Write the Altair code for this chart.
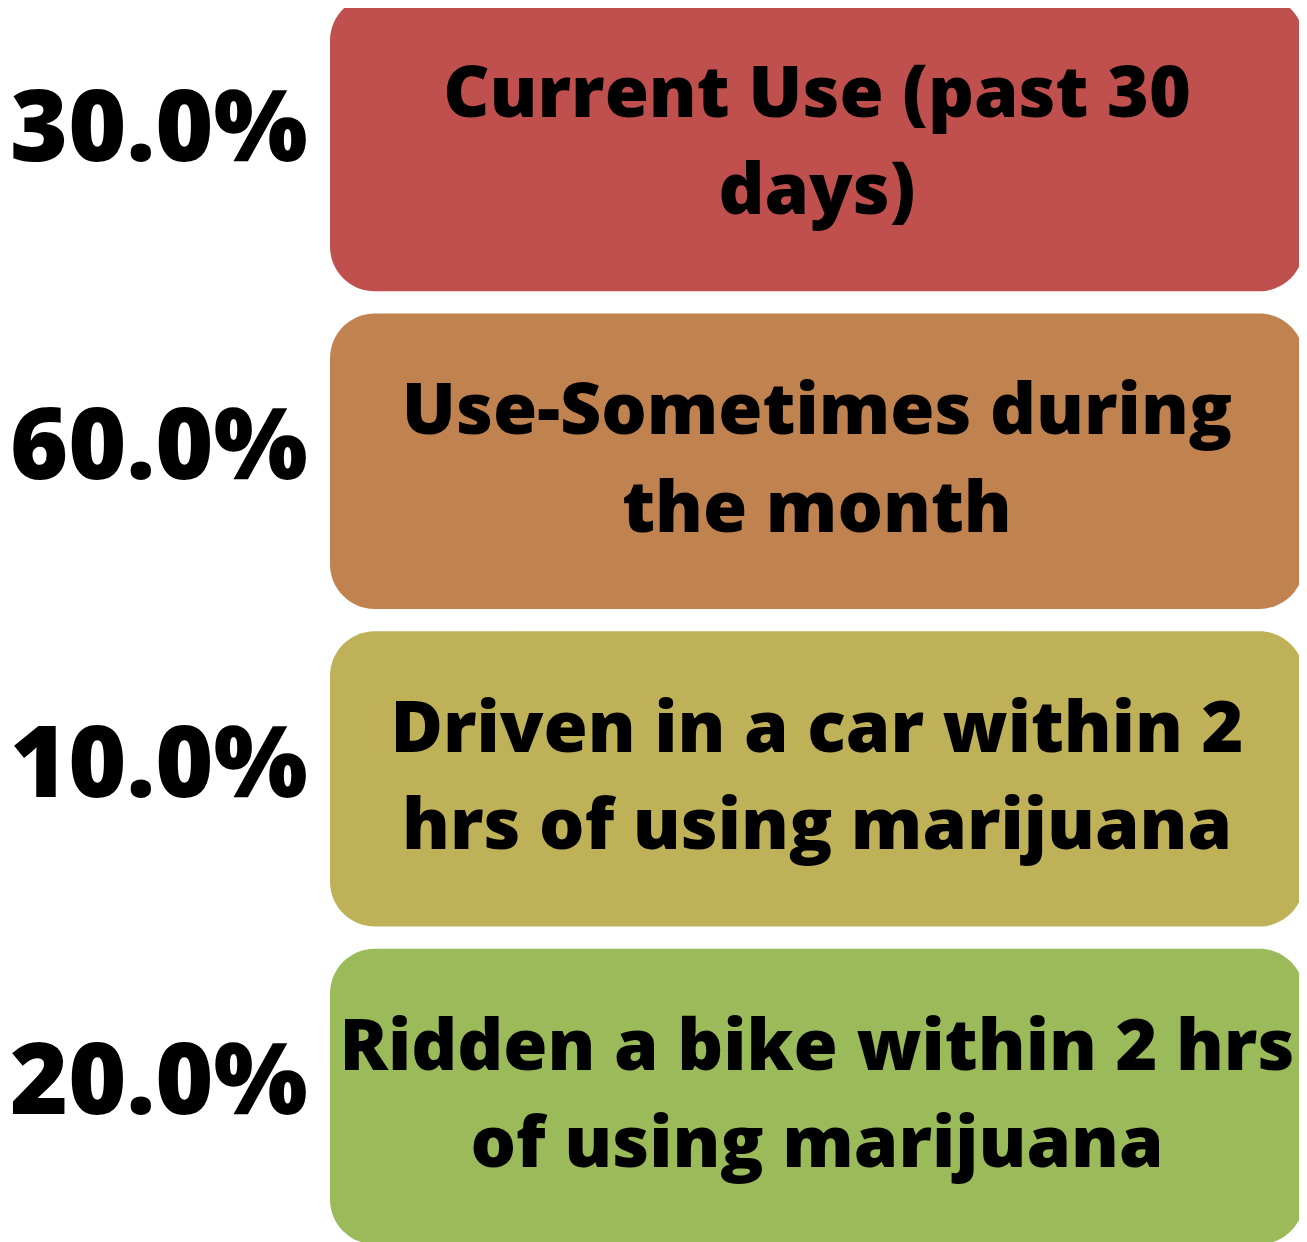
import altair as alt
import pandas as pd

labels = [
    "Current Use (past 30\ndays)",
    "Use-Sometimes during\nthe month",
    "Driven in a car within 2\nhrs of using marijuana",
    "Ridden a bike within 2 hrs\nof using marijuana",
]
percents = [30.0, 60.0, 10.0, 20.0]
colors = ["#C0504D", "#C0824F", "#BFB158", "#9BBA59"]

df = pd.DataFrame({"label": labels, "pct": percents})

yenc = alt.Y(
    "label:N",
    sort=labels,
    scale=alt.Scale(domain=labels, range=[-16, 1240], paddingInner=0.07, paddingOuter=0),
    axis=None,
)

boxes = alt.Chart(df).mark_rect(cornerRadius=45).encode(
    y=yenc,
    x=alt.value(324),
    x2=alt.value(1304),
    color=alt.Color("label:N", scale=alt.Scale(domain=labels, range=colors), legend=None),
)

box_text = alt.Chart(df).mark_text(
    lineBreak="\n",
    fontSize=72,
    font="Open Sans",
    fontWeight=800,
    align="center",
    baseline="middle",
    lineHeight=98,
    dy=-49,
    color="black",
).encode(y=yenc, x=alt.value(814), text="label:N")

pct_text = alt.Chart(df).transform_calculate(
    pct_label="format(datum.pct, '.1f') + '%'"
).mark_text(
    fontSize=100,
    font="Open Sans",
    fontWeight=800,
    align="left",
    baseline="middle",
    dy=-12,
    color="black",
).encode(y=yenc, x=alt.value(2), text="pct_label:N")

chart = alt.layer(boxes, box_text, pct_text).properties(
    width=1299,
    height=1234,
    autosize=alt.AutoSizeParams(type="none"),
    padding=0,
).configure_view(stroke=None)

chart.save("out.html", embed_options={"renderer": "svg", "actions": False})
